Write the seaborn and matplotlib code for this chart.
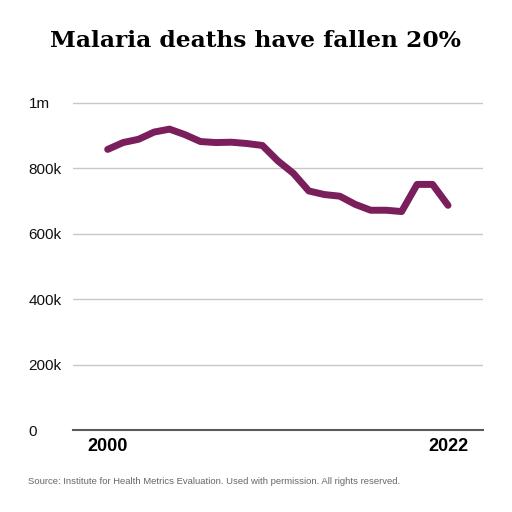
import numpy as np
import pandas as pd
import seaborn as sns
import matplotlib.pyplot as plt
from matplotlib.ticker import FixedLocator

sns.set_theme(style="white")
plt.rcParams['font.family'] = ['Liberation Sans', 'DejaVu Sans']

years = list(range(2000, 2023))
deaths = [858, 879, 889, 911, 920, 903, 882, 879, 880, 876, 870, 823, 785,
          731, 720, 715, 690, 672, 672, 668, 751, 751, 687]  # thousands
deaths = [d * 1000 for d in deaths]
ytick_vals = [0, 200000, 400000, 600000, 800000, 1000000]
ytick_labels = ["0", "200k", "400k", "600k", "800k", "1m"]
xtick_vals = [2000, 2022]

df = pd.DataFrame({"year": years, "deaths": deaths})

fig = plt.figure(figsize=(5.12, 5.12), dpi=100)
ax = fig.add_axes([73/512, 1 - 430/512, 410/512, (430 - 99.7)/512])

sns.lineplot(data=df, x="year", y="deaths", ax=ax, color="#7a1e5c",
             linewidth=5.0, solid_capstyle="round", solid_joinstyle="round")

ax.set_xlim(1997.76, 2024.26)
ax.set_ylim(0, 1010000)
ax.yaxis.set_major_locator(FixedLocator(ytick_vals))
ax.set_yticklabels(ytick_labels)
ax.set_xticks(xtick_vals)
ax.set_xticklabels([str(x) for x in xtick_vals])
ax.grid(axis="y", color="#c8c8c8", linewidth=1.0)
ax.grid(axis="x", visible=False)
for s in ["top", "right", "left"]:
    ax.spines[s].set_visible(False)
ax.spines["bottom"].set_color("#5a5a5a")
ax.spines["bottom"].set_linewidth(1.5)
ax.set_axisbelow(True)

ax.tick_params(axis="y", length=0, pad=32, labelsize=11, labelcolor="#111111")
for lab in ax.get_yticklabels():
    lab.set_horizontalalignment("left")
ax.tick_params(axis="x", length=0, pad=6, labelsize=13, labelcolor="#000000")
for lab in ax.get_xticklabels():
    lab.set_fontweight("bold")
ax.set_xlabel("")
ax.set_ylabel("")

fig.text(0.5, 1 - 41/512, "Malaria deaths have fallen 20%", ha="center", va="center",
         fontsize=16.8, fontweight="bold", family=["DejaVu Serif"], color="#000000")
fig.text(28/512, 1 - 481/512,
         "Source: Institute for Health Metrics Evaluation. Used with permission. All rights reserved.",
         ha="left", va="center", fontsize=6.8, color="#666666")

fig.savefig("out.png", dpi=100)
